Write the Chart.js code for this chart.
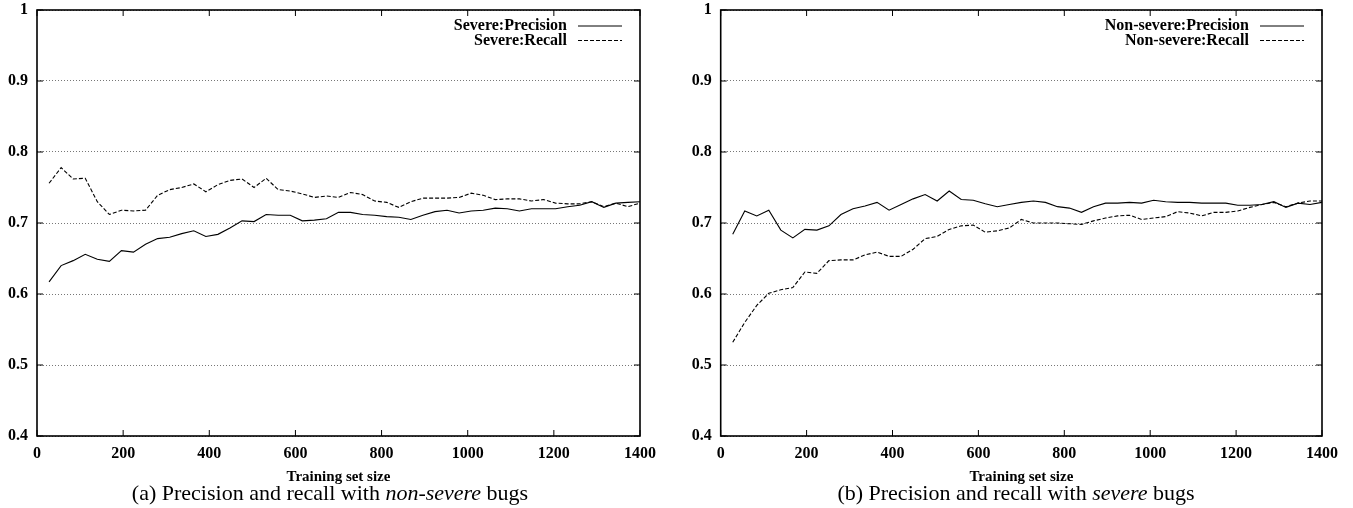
<!DOCTYPE html>
<html>
<head>
<meta charset="utf-8">
<script src="https://cdn.jsdelivr.net/npm/chart.js@4/dist/chart.umd.min.js"></script>
<style>
  html, body { margin: 0; padding: 0; background: #fff; }
  #wrap { position: relative; width: 1353px; height: 508px; overflow: hidden; }
  canvas { position: absolute; top: 0; }
  .caption {
    position: absolute; top: 481px; width: 420px; height: 24px; line-height: 24px;
    text-align: center; font-family: 'Liberation Serif', 'Times New Roman', serif;
    font-size: 22px; color: #000; white-space: nowrap;
  }
</style>
</head>
<body>
<div id="wrap">
  <canvas id="left" width="676" height="508" style="left:0;width:676px;height:508px"></canvas>
  <canvas id="right" width="677" height="508" style="left:676px;width:677px;height:508px"></canvas>
  <div class="caption" style="left:120px">(a) Precision and recall with <i>non-severe</i> bugs</div>
  <div class="caption" style="left:806px">(b) Precision and recall with <i>severe</i> bugs</div>
</div>
<script>
// training set sizes (x values)
const sizes = [28, 56, 84, 112, 140, 168, 196, 224, 252, 280,
  308, 336, 364, 392, 420, 448, 476, 504, 532, 560,
  588, 616, 644, 672, 700, 728, 756, 784, 812, 840,
  868, 896, 924, 952, 980, 1008, 1036, 1064, 1092, 1120,
  1148, 1176, 1204, 1232, 1260, 1288, 1316, 1344, 1372, 1400];

// (a) non-severe bugs
const severePrecision = [0.617, 0.640, 0.647, 0.656, 0.649, 0.646, 0.661, 0.659, 0.670, 0.678,
  0.680, 0.685, 0.689, 0.681, 0.684, 0.693, 0.703, 0.702, 0.712, 0.711,
  0.711, 0.703, 0.704, 0.706, 0.715, 0.715, 0.712, 0.711, 0.709, 0.708,
  0.705, 0.711, 0.716, 0.718, 0.714, 0.717, 0.718, 0.721, 0.720, 0.717,
  0.720, 0.720, 0.720, 0.723, 0.725, 0.730, 0.722, 0.728, 0.729, 0.730];
const severeRecall = [0.756, 0.778, 0.762, 0.763, 0.730, 0.712, 0.718, 0.717, 0.718, 0.739,
  0.747, 0.750, 0.755, 0.744, 0.754, 0.760, 0.762, 0.750, 0.763, 0.747,
  0.745, 0.741, 0.736, 0.738, 0.736, 0.743, 0.740, 0.731, 0.729, 0.722,
  0.730, 0.735, 0.735, 0.735, 0.736, 0.742, 0.739, 0.733, 0.734, 0.734,
  0.731, 0.733, 0.728, 0.727, 0.727, 0.730, 0.723, 0.728, 0.723, 0.728];

// (b) severe bugs
const nonSeverePrecision = [0.684, 0.717, 0.710, 0.718, 0.690, 0.679, 0.691, 0.690, 0.696, 0.712,
  0.720, 0.724, 0.729, 0.718, 0.726, 0.734, 0.740, 0.731, 0.745, 0.733,
  0.732, 0.727, 0.723, 0.726, 0.729, 0.731, 0.729, 0.723, 0.721, 0.715,
  0.723, 0.728, 0.728, 0.729, 0.728, 0.732, 0.730, 0.729, 0.729, 0.728,
  0.728, 0.728, 0.725, 0.725, 0.726, 0.730, 0.722, 0.728, 0.726, 0.729];
const nonSevereRecall = [0.532, 0.560, 0.584, 0.601, 0.606, 0.609, 0.631, 0.629, 0.647, 0.648,
  0.648, 0.655, 0.659, 0.653, 0.653, 0.663, 0.678, 0.681, 0.691, 0.696,
  0.697, 0.687, 0.689, 0.693, 0.705, 0.700, 0.700, 0.700, 0.699, 0.698,
  0.703, 0.707, 0.710, 0.711, 0.705, 0.707, 0.709, 0.716, 0.714, 0.710,
  0.715, 0.715, 0.717, 0.722, 0.726, 0.729, 0.723, 0.728, 0.731, 0.731];

const xTicks = [0, 200, 400, 600, 800, 1000, 1200, 1400];
const yTicks = [0.4, 0.5, 0.6, 0.7, 0.8, 0.9, 1];
const xTitle = 'Training set size';

const SERIF = "'Liberation Serif', 'Times New Roman', serif";

/**
 * Draws the closed frame, the inward tick marks and the gnuplot style key.
 */
const framePlugin = {
    id: 'frame',
    afterDatasetsDraw(chart) {
        const ctx = chart.ctx;
        const a = chart.chartArea;
        const xs = chart.scales.x;
        const ys = chart.scales.y;
        ctx.save();
        ctx.strokeStyle = '#000';
        ctx.lineWidth = 1;
        ctx.setLineDash([]);
        ctx.beginPath();
        xTicks.forEach((t) => {
            let px = xs.getPixelForValue(t);
            ctx.moveTo(px, a.bottom); ctx.lineTo(px, a.bottom - 6);
            ctx.moveTo(px, a.top); ctx.lineTo(px, a.top + 6);
        });
        yTicks.forEach((t) => {
            let py = ys.getPixelForValue(t);
            ctx.moveTo(a.left, py); ctx.lineTo(a.left + 6, py);
            ctx.moveTo(a.right, py); ctx.lineTo(a.right - 6, py);
        });
        ctx.stroke();
        ctx.lineWidth = 1.6;
        ctx.strokeRect(a.left, a.top, a.right - a.left, a.bottom - a.top);

        // key, top right inside the frame
        ctx.font = 'bold 16px ' + SERIF;
        ctx.textAlign = 'right';
        ctx.textBaseline = 'middle';
        ctx.fillStyle = '#000';
        chart.data.datasets.forEach((ds, i) => {
            let y = a.top + 16 + i * 14.5;
            let lineEnd = a.right - 18;
            let lineStart = lineEnd - 44;
            ctx.fillText(ds.label, lineStart - 11, y);
            ctx.lineWidth = 1;
            ctx.setLineDash(ds.borderDash || []);
            ctx.beginPath();
            ctx.moveTo(lineStart, y);
            ctx.lineTo(lineEnd, y);
            ctx.stroke();
        });
        ctx.restore();
    }
};

function makeChart(id, labels, precision, recall, yWidth, padRight) {
    const ctx = document.getElementById(id).getContext('2d');
    return new Chart(ctx, {
        type: 'line',
        data: {
            datasets: [{
                label: labels[0],
                data: sizes.map((x, i) => ({x: x, y: precision[i]})),
                borderColor: '#000',
                borderWidth: 1.1,
                pointRadius: 0,
                tension: 0
            }, {
                label: labels[1],
                data: sizes.map((x, i) => ({x: x, y: recall[i]})),
                borderColor: '#000',
                borderWidth: 1.1,
                borderDash: [4, 2],
                pointRadius: 0,
                tension: 0
            }]
        },
        options: {
            responsive: false,
            animation: false,
            devicePixelRatio: 1,
            layout: {padding: {left: 0, right: padRight, top: 10, bottom: 22}},
            plugins: {legend: {display: false}, tooltip: {enabled: false}},
            scales: {
                x: {
                    type: 'linear',
                    min: 0, max: 1400,
                    afterBuildTicks: (s) => { s.ticks = xTicks.map(v => ({value: v})); },
                    afterFit: (s) => { s.height = 50; s.paddingLeft = 0; s.paddingRight = 0; },
                    grid: {display: false, drawTicks: false},
                    border: {display: false},
                    ticks: {
                        padding: 8,
                        maxRotation: 0,
                        color: '#000',
                        font: {family: SERIF, size: 16, weight: 'bold'},
                        callback: (v) => String(v)
                    },
                    title: {
                        display: true,
                        text: xTitle,
                        color: '#000',
                        padding: {top: 6, bottom: 0},
                        font: {family: SERIF, size: 15, weight: 'bold'}
                    }
                },
                y: {
                    min: 0.4, max: 1,
                    afterBuildTicks: (s) => { s.ticks = yTicks.map(v => ({value: v})); },
                    afterFit: (s) => { s.width = yWidth; s.paddingTop = 0; s.paddingBottom = 0; },
                    grid: {
                        drawTicks: false,
                        color: '#777',
                        lineWidth: 1
                    },
                    border: {display: false, dash: [1, 2]},
                    ticks: {
                        padding: 9,
                        color: '#000',
                        font: {family: SERIF, size: 16, weight: 'bold'},
                        callback: (v) => String(Number(v.toFixed(1)))
                    }
                }
            }
        },
        plugins: [framePlugin]
    });
}

makeChart('left', ['Severe:Precision', 'Severe:Recall'], severePrecision, severeRecall, 37, 36);
makeChart('right', ['Non-severe:Precision', 'Non-severe:Recall'], nonSeverePrecision, nonSevereRecall, 44.7, 31);
</script>
</body>
</html>
